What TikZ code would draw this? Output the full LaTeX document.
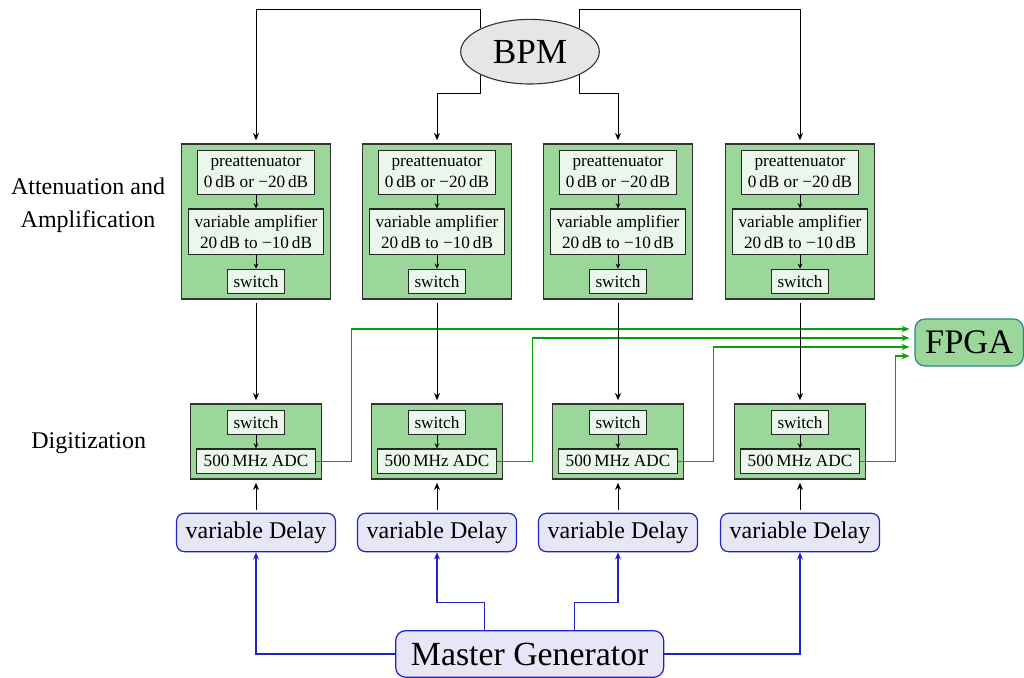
\documentclass[tikz,border=0pt]{standalone}
\usepackage{fontspec}
\setmainfont{Liberation Serif}
\usetikzlibrary{arrows.meta,calc,shapes.geometric}
\definecolor{gfill}{RGB}{155,214,155}
\definecolor{ginner}{RGB}{236,247,236}
\definecolor{lav}{RGB}{230,230,246}
\definecolor{dblue}{RGB}{35,35,195}
\definecolor{bpmgray}{RGB}{230,230,230}
\definecolor{teal2}{RGB}{40,135,135}
\definecolor{gline}{RGB}{10,160,10}
\newcommand{\smallfnt}{\fontsize{8.6}{10.4}\selectfont}
\newcommand{\normfnt}{\fontsize{12}{16.6}\selectfont}
\begin{document}
\begin{tikzpicture}[x=0.5pt,y=-0.5pt,
  outerbox/.style={draw=black!80,fill=gfill,line width=0.75pt,inner sep=0pt},
  inbox/.style={draw=black!85,fill=ginner,line width=0.55pt,font=\smallfnt,align=center,inner sep=1pt},
  delaybox/.style={draw=dblue,fill=lav,line width=0.6pt,rounded corners=4pt,minimum width=79.5pt,minimum height=19.2pt,inner sep=1pt,font=\normfnt},
  barrow/.style={draw=black,line width=0.5pt,-{Stealth[length=3.6pt,width=3pt]},shorten >=1.5pt,shorten <=1.5pt},
  bparrow/.style={draw=black,line width=0.5pt,-{Stealth[length=3.6pt,width=3pt]},shorten >=1.5pt},
  smarrow/.style={draw=black,line width=0.45pt,-{Stealth[length=2.6pt,width=2.4pt]}},
  blarrow/.style={draw=dblue,line width=0.55pt,-{Stealth[length=3.6pt,width=3pt]}},
  grarrow/.style={draw=gline,line width=0.65pt,-{Stealth[length=4pt,width=3.2pt]},shorten >=2.5pt},
  labeltxt/.style={font=\normfnt,align=center,inner sep=0pt}
]
\useasboundingbox (0,0) rectangle (1024,678);

% columns
\foreach \i/\x in {1/256,2/437,3/618,4/800}{
  \node[outerbox,minimum width=74.5pt,minimum height=77.5pt] (top\i) at (\x,221.5) {};
  \node[inbox,minimum width=58.8pt,minimum height=21.7pt] (pa\i) at (\x,172.4) {preattenuator\\0\,dB or −20\,dB};
  \node[inbox,minimum width=67.3pt,minimum height=22.7pt] (va\i) at (\x,231.7) {variable amplifier\\20\,dB to −10\,dB};
  \node[inbox,minimum width=28.5pt,minimum height=12pt] (swa\i) at (\x,281.3) {switch};
  \draw[smarrow] (pa\i.south) -- (va\i.north);
  \draw[smarrow] (va\i.south) -- (swa\i.north);
  \node[outerbox,minimum width=65.7pt,minimum height=37.5pt] (dig\i) at (\x,441.5) {};
  \node[inbox,minimum width=28.5pt,minimum height=11.8pt] (swb\i) at (\x,422.3) {switch};
  \node[inbox,minimum width=59.2pt,minimum height=12.2pt] (adc\i) at (\x,461.2) {500\,MHz ADC};
  \draw[smarrow] (swb\i.south) -- (adc\i.north);
  \node[delaybox] (del\i) at (\x,532.5) {variable Delay};
}

% FPGA
\node[draw=teal2,fill=gfill,line width=0.6pt,rounded corners=5pt,minimum width=54.2pt,minimum height=23.5pt,inner sep=0pt,font=\fontsize{17.2}{20}\selectfont] (fpga) at (969.2,342.5) {FPGA};

% green outputs
\draw[grarrow] (adc1.east) -- ++(36,0) |- ($(fpga.west)+(0,6.75pt)$);
\draw[grarrow] (adc2.east) -- ++(36,0) |- ($(fpga.west)+(0,2.25pt)$);
\draw[grarrow] (adc3.east) -- ++(36,0) |- ($(fpga.west)+(0,-2.25pt)$);
\draw[grarrow] (adc4.east) -- ++(36,0) |- ($(fpga.west)+(0,-6.75pt)$);

% vertical black arrows
\foreach \i in {1,2,3,4}{
  \draw[barrow] (top\i.south) -- (dig\i.north);
  \draw[barrow] (del\i.north) -- (dig\i.south);
}

% BPM
\node[ellipse,draw=black!80,fill=bpmgray,line width=0.55pt,minimum width=69.3pt,minimum height=32.3pt,inner sep=0pt,font=\fontsize{17.6}{20}\selectfont] (bpm) at (530,51.7) {BPM};
\draw[bparrow] (bpm.north west) -- ++(0,-19) -| (top1.north);
\draw[bparrow] (bpm.south west) -- ++(0,19) -| (top2.north);
\draw[bparrow] (bpm.south east) -- ++(0,19) -| (top3.north);
\draw[bparrow] (bpm.north east) -- ++(0,-19) -| (top4.north);

% Master generator
\node[draw=dblue,fill=lav,line width=0.6pt,rounded corners=5pt,minimum width=134pt,minimum height=23.3pt,inner sep=0pt,font=\fontsize{16.9}{19}\selectfont] (master) at (529.7,654) {Master Generator};
\draw[blarrow] (master.west) -| (del1.south);
\draw[blarrow] ($(master.north)+(-45,0)$) -- ++(0,-28) -| (del2.south);
\draw[blarrow] ($(master.north)+(45,0)$) -- ++(0,-28) -| (del3.south);
\draw[blarrow] (master.east) -| (del4.south);

% labels
\node[labeltxt] (lab1) at (88,205.5) {Attenuation and\\Amplification};
\node[labeltxt,anchor=base] (lab2) at (88.7,448.5) {Digitization};
\end{tikzpicture}
\end{document}
